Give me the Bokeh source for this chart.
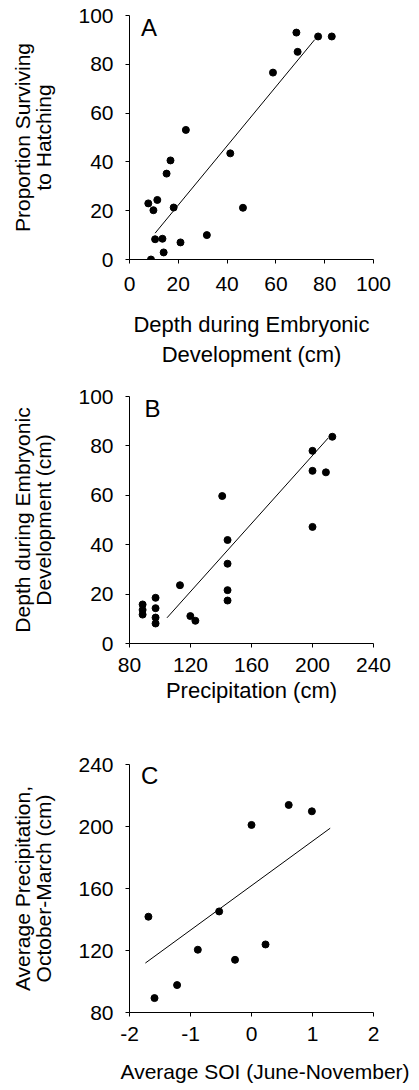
from bokeh.plotting import figure
from bokeh.layouts import column
from bokeh.models import Label, Range1d, FixedTicker, Title
from bokeh.embed import file_html
from bokeh.resources import INLINE

FONT = "Liberation Sans"

# Panel A: depth (cm) vs proportion surviving to hatching
a_depth = [7.7, 11.4, 9.8, 8.8, 10.5, 13.5, 14.0, 15.2, 16.8, 18.1, 20.9, 23.1,
           31.7, 41.3, 46.5, 58.8, 68.4, 68.9, 77.3, 82.9]
a_surv = [23.0, 24.4, 20.2, 0.0, 8.3, 8.5, 2.9, 35.2, 40.6, 21.3, 7.0, 53.1,
          10.0, 43.5, 21.2, 76.6, 93.0, 85.1, 91.4, 91.4]
a_fit_x = [10.5, 75.9]
a_fit_y = [10.8, 90.1]

# Panel B: precipitation (cm) vs depth (cm)
b_precip = [88.6, 88.6, 88.6, 97.1, 97.1, 97.1, 97.1, 113.1, 119.9, 123.2,
            140.8, 144.3, 144.3, 144.3, 144.3, 200.0, 200.0, 200.0, 208.8, 213.0]
b_depth = [15.8, 13.6, 11.7, 18.5, 14.3, 10.5, 8.1, 23.6, 11.1, 9.2,
           59.7, 41.9, 32.3, 21.6, 17.4, 78.0, 69.9, 47.2, 69.3, 83.7]
b_fit_x = [104.6, 210.3]
b_fit_y = [10.4, 83.2]

# Panel C: average SOI vs average precipitation
c_soi = [-1.69, -1.59, -1.22, -0.88, -0.53, -0.27, 0.00, 0.23, 0.61, 0.99]
c_precip = [141.8, 89.3, 97.7, 120.5, 145.2, 114.0, 201.0, 123.9, 213.9, 209.8]
c_fit_x = [-1.74, 1.29]
c_fit_y = [111.9, 198.9]

a_xticks = [0, 20, 40, 60, 80, 100]
a_yticks = [0, 20, 40, 60, 80, 100]
b_xticks = [80, 120, 160, 200, 240]
b_yticks = [0, 20, 40, 60, 80, 100]
c_xticks = [-2, -1, 0, 1, 2]
c_yticks = [80, 120, 160, 200, 240]
c_xtick_labels = {-2: "-2", -1: "-1", 0: "0", 1: "1", 2: "2"}


def make_panel(h, top, fh, xr, yr, xt, yt, xlabel, ylabel, xl_std, xt_std):
    p = figure(width=419, height=h, frame_width=244, frame_height=fh,
               min_border_left=129, min_border_right=46,
               min_border_top=top, min_border_bottom=h - top - fh,
               x_range=Range1d(*xr), y_range=Range1d(*yr),
               output_backend="svg", toolbar_location=None)
    p.outline_line_color = None
    p.grid.visible = False
    p.background_fill_color = "white"
    p.border_fill_color = "white"
    for ax in (p.xaxis[0], p.yaxis[0]):
        ax.axis_line_color = "black"
        ax.axis_line_width = 1
        ax.major_tick_line_color = "black"
        ax.major_tick_out = 4
        ax.major_tick_in = 0
        ax.minor_tick_line_color = None
        ax.major_label_text_font = FONT
        ax.major_label_text_font_size = "21px"
        ax.major_label_text_color = "black"
        ax.axis_label_text_font = FONT
        ax.axis_label_text_font_style = "normal"
        ax.axis_label_text_color = "black"
    p.xaxis.axis_label_text_font_size = "22px"
    p.yaxis.axis_label_text_font_size = "21px"
    p.yaxis.axis_label_text_line_height = 0.95
    p.xaxis.axis_label_text_line_height = 1.2
    p.xaxis.ticker = FixedTicker(ticks=xt)
    p.yaxis.ticker = FixedTicker(ticks=yt)
    if xlabel:
        p.xaxis.axis_label = xlabel
    p.yaxis.axis_label = ylabel
    p.xaxis.major_label_standoff = xt_std
    p.yaxis.major_label_standoff = 12
    p.xaxis.axis_label_standoff = xl_std
    p.yaxis.axis_label_standoff = 20
    return p


pa = make_panel(370, 15, 244, (0, 100), (0, 100), a_xticks, a_yticks,
                "Depth during Embryonic\nDevelopment (cm)",
                "Proportion Surviving\nto Hatching", 18, 13)
pa.line(a_fit_x, a_fit_y, line_color="black", line_width=1)
pa.scatter(a_depth, a_surv, size=7, fill_color="black", line_color="black")
pa.add_layout(Label(x=4.7, y=100.8, text="A", text_font=FONT, text_font_size="24px",
                    text_baseline="top", text_color="black"))

pb = make_panel(370, 26, 247, (80, 240), (0, 100), b_xticks, b_yticks,
                "Precipitation (cm)",
                "Depth during Embryonic\nDevelopment (cm)", 3, 10)
pb.line(b_fit_x, b_fit_y, line_color="black", line_width=1)
pb.scatter(b_precip, b_depth, size=7, fill_color="black", line_color="black")
pb.add_layout(Label(x=89.9, y=100.8, text="B", text_font=FONT, text_font_size="24px",
                    text_baseline="top", text_color="black"))

pc = make_panel(350, 24, 248, (-2, 2), (80, 240), c_xticks, c_yticks,
                None,
                "Average Precipitation,\nOctober-March (cm)", 8, 10)
pc.xaxis.major_label_overrides = c_xtick_labels
pc.line(c_fit_x, c_fit_y, line_color="black", line_width=1)
pc.scatter(c_soi, c_precip, size=7, fill_color="black", line_color="black")
pc.add_layout(Label(x=-1.81, y=241.5, text="C", text_font=FONT, text_font_size="24px",
                    text_baseline="top", text_color="black"))
pc.add_layout(Title(text="Average SOI (June-November)", text_font=FONT,
                    text_font_size="21px", text_font_style="normal",
                    text_color="black", align="left", offset=-9, standoff=28),
              "below")

layout = column(pa, pb, pc, spacing=0)
open("out.html", "w").write(file_html(layout, INLINE))
